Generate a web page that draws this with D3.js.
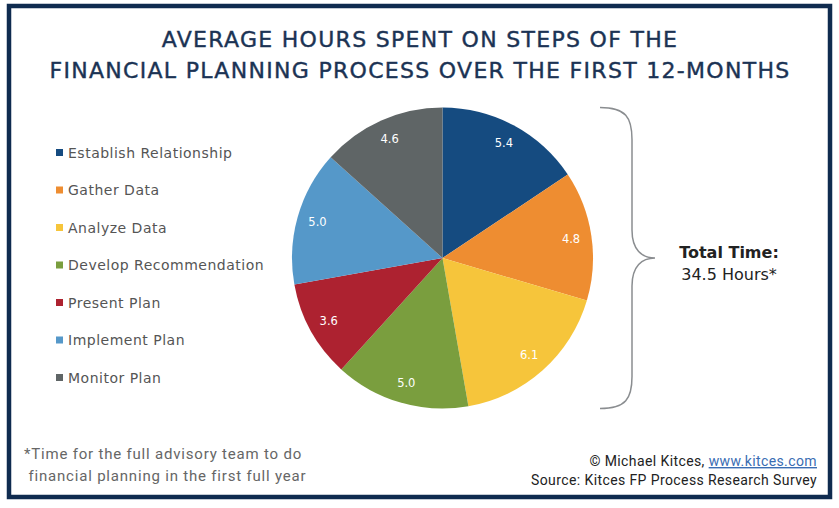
<!DOCTYPE html>
<html><head><meta charset="utf-8">
<script src="https://cdn.jsdelivr.net/npm/d3@7"></script>
<style>body{margin:0;background:#fff}svg{display:block}</style>
</head><body>
<svg id="chart" width="839" height="508"></svg>
<script>
const categories = ["Establish Relationship","Gather Data","Analyze Data","Develop Recommendation","Present Plan","Implement Plan","Monitor Plan"];
const hours = [5.4, 4.8, 6.1, 5.0, 3.6, 5.0, 4.6];
const colors = ["#154b80","#ee8d31","#f6c53b","#7a9e3e","#ad2230","#5598c9","#5f6566"];
const titleLines = ["AVERAGE HOURS SPENT ON STEPS OF THE","FINANCIAL PLANNING PROCESS OVER THE FIRST 12-MONTHS"];
const totalLines = ["Total Time:","34.5 Hours*"];
const footnote = ["*Time for the full advisory team to do"," financial planning in the first full year"];

(function(){
const svg = d3.select("#chart");
// frame
svg.append("rect").attr("x",9).attr("y",6).attr("width",821).attr("height",491)
  .attr("fill","#fff").attr("stroke","#0f2b4f").attr("stroke-width",4.5);

// title
svg.append("g").selectAll("text").data(titleLines).join("text")
  .attr("x",420).attr("y",(d,i)=>47+i*31).attr("text-anchor","middle")
  .attr("font-family","DejaVu Sans").attr("font-size",22).attr("letter-spacing",1.3)
  .attr("fill","#1b3354").attr("stroke","#1b3354").attr("stroke-width",0.4)
  .text(d=>d);

// pie
const cx=442.5, cy=258, r=150.5;
const pie = d3.pie().sort(null).value(d=>d)(hours);
const arc = d3.arc().innerRadius(0).outerRadius(r);
const labelArc = d3.arc().innerRadius(130).outerRadius(130);
const g = svg.append("g").attr("transform",`translate(${cx},${cy})`);
g.selectAll("path").data(pie).join("path").attr("d",arc).attr("fill",(d,i)=>colors[i]);
g.selectAll("text").data(pie).join("text")
  .attr("transform",d=>`translate(${labelArc.centroid(d)})`)
  .attr("text-anchor","middle").attr("dy","0.35em")
  .attr("font-family","DejaVu Sans").attr("font-size",11.5).attr("fill","#fff")
  .text(d=>d3.format(".1f")(d.data));

// legend
const y = d3.scalePoint().domain(categories).range([153,378]);
const lg = svg.append("g");
lg.selectAll("rect").data(categories).join("rect")
  .attr("x",56).attr("y",d=>y(d)-4).attr("width",7).attr("height",7).attr("fill",(d,i)=>colors[i]);
lg.selectAll("text").data(categories).join("text")
  .attr("x",68).attr("y",d=>y(d)).attr("dy","0.35em")
  .attr("font-family","DejaVu Sans").attr("font-size",14).attr("letter-spacing",0.5).attr("fill","#555")
  .text(d=>d);

// brace
const yTop=cy-r, yBot=cy+r, x0=600, x1=632, xt=655;
svg.append("path").attr("fill","none").attr("stroke","#8a8d90").attr("stroke-width",1.5)
  .attr("d",`M${x0},${yTop} C${x0+26},${yTop} ${x1},${yTop+10} ${x1},${yTop+32} L${x1},${cy-28} C${x1},${cy-8} ${x1+10},${cy} ${xt},${cy} C${x1+10},${cy} ${x1},${cy+8} ${x1},${cy+28} L${x1},${yBot-32} C${x1},${yBot-10} ${x0+26},${yBot} ${x0},${yBot}`);

svg.append("g").selectAll("text").data(totalLines).join("text")
  .attr("x",729).attr("y",(d,i)=>258+i*22).attr("text-anchor","middle")
  .attr("font-family","DejaVu Sans").attr("font-size",16)
  .attr("font-weight",(d,i)=>i===0?"bold":"normal").attr("fill","#222")
  .text(d=>d);

// footnote
svg.append("g").selectAll("text").data(footnote).join("text")
  .attr("x",24).attr("y",(d,i)=>459+i*22).attr("xml:space","preserve")
  .attr("font-family","Roboto").attr("font-size",15).attr("letter-spacing",0.8).attr("fill","#666")
  .text(d=>d);

// source
const src = svg.append("text").attr("x",817).attr("y",466).attr("text-anchor","end")
  .attr("font-family","Roboto").attr("font-size",14).attr("letter-spacing",0.4).attr("fill","#222");
src.append("tspan").text("© Michael Kitces, ");
src.append("tspan").attr("fill","#3a6db3").attr("text-decoration","underline").text("www.kitces.com");
svg.append("text").attr("x",817).attr("y",485).attr("text-anchor","end")
  .attr("font-family","Roboto").attr("font-size",14).attr("letter-spacing",0.4).attr("fill","#222")
  .text("Source: Kitces FP Process Research Survey");
})();
</script>
</body></html>
